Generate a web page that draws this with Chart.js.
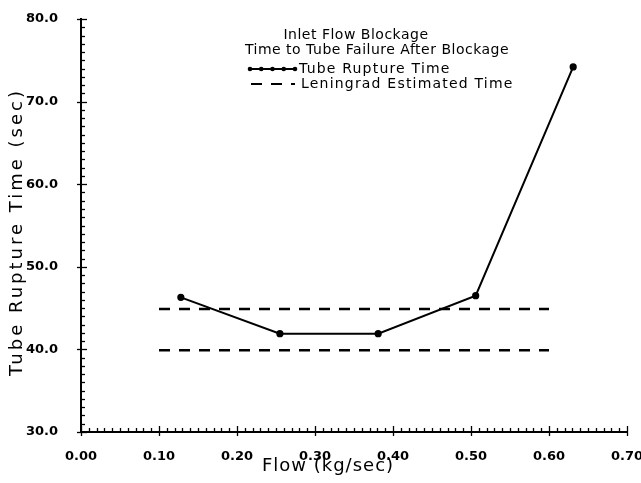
<!DOCTYPE html>
<html>
<head>
<meta charset="utf-8">
<script src="https://cdn.jsdelivr.net/npm/chart.js@4/dist/chart.umd.min.js"></script>
<style>
  html, body { margin: 0; padding: 0; background: #ffffff; }
  #wrap { width: 641px; height: 483px; }
</style>
</head>
<body>
<div id="wrap"><canvas id="c" width="641" height="483"></canvas></div>
<script>
// ---- data ----
const titleLines = ["Inlet Flow Blockage", "Time to Tube Failure After Blockage"];
const xAxisTitle = "Flow (kg/sec)";
const yAxisTitle = "Tube Rupture Time (sec)";
const ruptureLabel = "Tube Rupture Time";
const estimateLabel = "Leningrad Estimated Time";
const flowValues = [0.128, 0.255, 0.381, 0.506, 0.631];
const ruptureTimes = [46.3, 41.9, 41.9, 46.5, 74.2];
const estimateFlow = [0.10, 0.60];
const estimateUpper = [44.9, 44.9];
const estimateLower = [39.9, 39.9];
const xMin = 0.0, xMax = 0.70, xStep = 0.10, xMinorStep = 0.01;
const yMin = 30.0, yMax = 80.0, yStep = 10.0, yMinorStep = 1.0;

const FONT = "'DejaVu Sans', 'Liberation Sans', sans-serif";

function pts(xs, ys) { return xs.map((x, i) => ({ x: x, y: ys[i] })); }

// minor/major tick marks drawn through the scales
const tickMarks = {
  id: 'tickMarks',
  afterDraw(chart) {
    const ctx = chart.ctx;
    const xs = chart.scales.x, ys = chart.scales.y;
    const left = chart.chartArea.left, bottom = chart.chartArea.bottom;
    ctx.save();
    ctx.strokeStyle = '#000';
    ctx.lineWidth = 1.3;
    const nY = Math.round((yMax - yMin) / yMinorStep);
    for (let i = 0; i <= nY; i++) {
      const v = yMin + i * yMinorStep;
      const p = Math.round(ys.getPixelForValue(v)) + 0.5;
      const major = i % Math.round(yStep / yMinorStep) === 0;
      ctx.beginPath();
      ctx.moveTo(major ? left - 4 : left, p);
      ctx.lineTo(left + (major ? 6 : 4), p);
      ctx.stroke();
    }
    const nX = Math.round((xMax - xMin) / xMinorStep);
    for (let i = 0; i <= nX; i++) {
      const v = xMin + i * xMinorStep;
      const p = Math.round(xs.getPixelForValue(v)) + 0.5;
      const major = i % Math.round(xStep / xMinorStep) === 0;
      ctx.beginPath();
      ctx.moveTo(p, major ? bottom + 4 : bottom);
      ctx.lineTo(p, bottom - (major ? 6 : 4));
      ctx.stroke();
    }
    ctx.restore();
  }
};

// titles and legend inside the plot, plus axis titles
const annotations = {
  id: 'annotations',
  afterDraw(chart) {
    const ctx = chart.ctx;
    ctx.save();
    ctx.fillStyle = '#000';
    ctx.strokeStyle = '#000';
    ctx.textBaseline = 'middle';
    ctx.letterSpacing = '0.5px';
    ctx.font = "14px " + FONT;
    ctx.textAlign = 'center';
    ctx.fillText(titleLines[0], 356, 35);
    ctx.fillText(titleLines[1], 377, 50);
    ctx.textAlign = 'left';
    ctx.letterSpacing = '1.2px';
    // legend entry 1: line with dots
    ctx.lineWidth = 2;
    ctx.beginPath(); ctx.moveTo(250, 69); ctx.lineTo(295, 69); ctx.stroke();
    for (let k = 0; k < 5; k++) {
      ctx.beginPath(); ctx.arc(250 + k * 11.25, 69, 2.3, 0, Math.PI * 2); ctx.fill();
    }
    ctx.fillText(ruptureLabel, 299, 69);
    // legend entry 2: dashes
    ctx.lineWidth = 2.2;
    ctx.setLineDash([11, 9]);
    ctx.beginPath(); ctx.moveTo(251, 84); ctx.lineTo(295, 84); ctx.stroke();
    ctx.setLineDash([]);
    ctx.fillText(estimateLabel, 301, 84);
    // axis titles
    ctx.font = "18px " + FONT;
    ctx.letterSpacing = '1px';
    ctx.textAlign = 'center';
    ctx.fillText(xAxisTitle, 328, 466);
    ctx.translate(17, 232);
    ctx.rotate(-Math.PI / 2);
    ctx.letterSpacing = '3px';
    ctx.fillText(yAxisTitle, 0, 0);
    ctx.restore();
  }
};

new Chart(document.getElementById('c'), {
  type: 'scatter',
  data: {
    datasets: [
      {
        label: ruptureLabel,
        data: pts(flowValues, ruptureTimes),
        showLine: true,
        borderColor: '#000',
        backgroundColor: '#000',
        borderWidth: 2,
        pointRadius: 2.6,
        pointHoverRadius: 2.6,
        tension: 0
      },
      {
        label: estimateLabel,
        data: pts(estimateFlow, estimateUpper),
        showLine: true,
        borderColor: '#000',
        borderWidth: 2.4,
        borderDash: [11, 9],
        pointRadius: 0
      },
      {
        label: estimateLabel + ' (lower)',
        data: pts(estimateFlow, estimateLower),
        showLine: true,
        borderColor: '#000',
        borderWidth: 2.4,
        borderDash: [11, 9],
        pointRadius: 0
      }
    ]
  },
  options: {
    responsive: false,
    animation: false,
    layout: { autoPadding: false, padding: { left: 0, top: 19, right: 14, bottom: 0 } },
    plugins: { legend: { display: false }, tooltip: { enabled: false }, title: { display: false } },
    scales: {
      x: {
        type: 'linear',
        min: xMin, max: xMax,
        afterFit(s) { s.height = 51; s.paddingLeft = 0; s.paddingRight = 0; s.paddingTop = 0; s.paddingBottom = 0; },
        grid: { display: false },
        border: { display: true, color: '#000', width: 2 },
        ticks: {
          stepSize: xStep,
          padding: 9,
          color: '#000',
          font: { family: FONT, size: 13, weight: 'bold' },
          maxRotation: 0,
          callback: v => Number(v).toFixed(2)
        },
        title: { display: false, text: xAxisTitle }
      },
      y: {
        type: 'linear',
        min: yMin, max: yMax,
        afterFit(s) { s.width = 81; s.paddingLeft = 0; s.paddingRight = 0; s.paddingTop = 0; s.paddingBottom = 0; },
        grid: { display: false },
        border: { display: true, color: '#000', width: 2 },
        ticks: {
          stepSize: yStep,
          padding: 15,
          color: '#000',
          font: { family: FONT, size: 13, weight: 'bold' },
          callback: v => Number(v).toFixed(1)
        },
        title: { display: false, text: yAxisTitle }
      }
    }
  },
  plugins: [tickMarks, annotations]
});
</script>
</body>
</html>
